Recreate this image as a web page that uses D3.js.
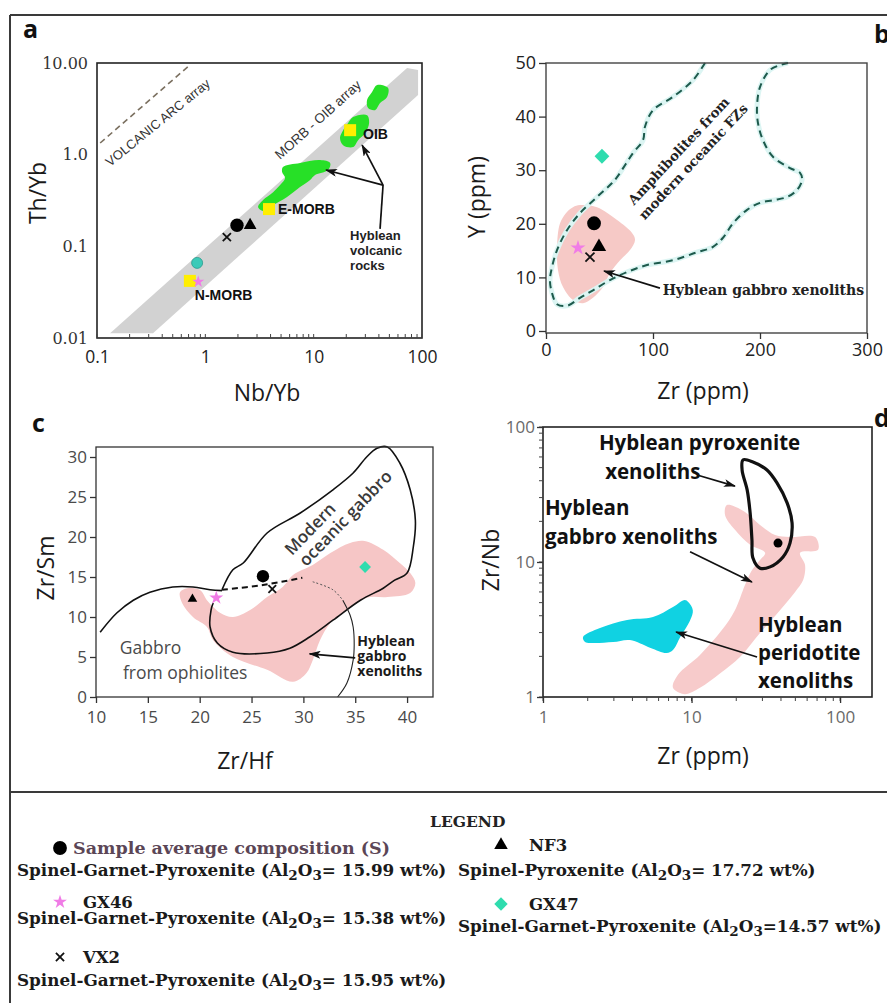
<!DOCTYPE html>
<html>
<head>
<meta charset="utf-8">
<title>Pyroxenite discrimination diagrams</title>
<script src="https://cdn.jsdelivr.net/npm/d3@7"></script>
<style>
  body { margin: 0; background: #fff; }
  svg { display: block; }
</style>
</head>
<body>
<svg id="chart" width="887" height="1003"></svg>
<script>
// sample order used in every panel
const samples = ["S", "NF3", "GX46", "GX47", "VX2"]

// (a) Th/Yb vs Nb/Yb
const aNbYb = [1.96, 2.59, 0.86, 0.84, 1.58]
const aThYb = [0.17, 0.17, 0.041, 0.066, 0.126]
const refNames = ["N-MORB", "E-MORB", "OIB"]
const refNbYb = [0.72, 3.87, 21.7]
const refThYb = [0.042, 0.255, 1.85]
const morbOibArray = [[0.132, 0.0113], [0.329, 0.0113], [92, 4.47], [92, 8.38], [72.8, 8.8]]
const volcanicArc = [[0.107, 1.34], [0.72, 9.5]]
const hybleanVolcanics = [
    [[38.5, 5.74], [48.6, 5.33], [47.6, 4.25], [41.0, 3.65], [36.9, 3.06], [31.8, 3.22], [31.1, 3.94], [34.6, 4.82]],
    [[23.1, 2.57], [31.1, 2.70], [32.5, 2.21], [29.9, 1.72], [25.7, 1.44], [23.1, 1.21], [18.7, 1.27], [17.5, 1.52], [18.7, 1.85], [20.8, 2.21]],
    [[5.21, 0.733], [7.48, 0.81], [11.5, 0.873], [14.2, 0.81], [13.6, 0.68], [10.3, 0.60], [9.27, 0.53], [7.48, 0.443], [5.68, 0.345],
     [4.22, 0.282], [3.41, 0.243], [3.07, 0.268], [3.41, 0.32], [4.22, 0.39], [4.9, 0.466], [5.45, 0.556], [5.11, 0.646]]
]
const aTicksX = [0.1, 1, 10, 100]
const aTicksY = [0.01, 0.1, 1, 10]
const aLabelsY = ["0.01", "0.1", "1.0", "10.00"]

// (b) Y vs Zr
const bZr = [44.9, 49.5, 29.9, 52.3, 41.1]
const bY = [20.1, 15.7, 15.5, 32.6, 13.8]
const bGabbro = [[31.8, 23.5], [47.7, 23.1], [66.4, 20.7], [80.4, 18.3], [83.2, 17.0], [78.5, 15.1], [69.2, 13.2], [59.8, 10.8],
    [53.3, 8.2], [43.9, 6.2], [34.6, 5.2], [25.2, 5.8], [15.9, 8.2], [11.2, 11.4], [10.3, 15.7], [13.1, 20.1], [19.6, 22.2], [25.2, 23.1]]
const bAmphibolites = [[148.6, 50], [137.4, 46.8], [118.7, 43.7], [100, 41.2], [92.5, 38.1], [90.7, 35.6], [81.3, 33.2], [66.4, 28.7],
    [61.7, 27.6], [47.7, 25.0], [31.8, 22.0], [19.6, 18.8], [10.3, 15.1], [5.6, 11.9], [3.7, 9.5], [5.6, 7.1], [10.3, 5.0], [19.6, 4.7],
    [31.8, 6.2], [43.9, 7.6], [59.8, 9.5], [75.7, 11.0], [94.4, 12.3], [118.7, 13.2], [141.1, 14.7], [156.1, 15.7], [165.4, 17.4],
    [174.8, 20.1], [187.9, 22.6], [200, 23.9], [212.1, 24.4], [225.2, 25.0], [234.6, 26.3], [239.3, 28.2], [237.4, 29.5], [228, 30.4],
    [212.1, 32.5], [202.8, 35.6], [198.1, 38.8], [197.2, 41.8], [200, 45.5], [209.3, 48.7], [218.7, 49.6], [226.2, 50]]
const bTicksX = [0, 100, 200, 300]
const bTicksY = [0, 10, 20, 30, 40, 50]

// (c) Zr/Sm vs Zr/Hf
const cZrHf = [26.1, 19.3, 21.6, 35.95, 27.0]
const cZrSm = [15.1, 12.25, 12.4, 16.25, 13.5]
const cGabbro = [[18.1, 13.1], [18.8, 13.6], [20.0, 13.4], [20.7, 12.1], [21.3, 11.25], [22.0, 10.5], [23.2, 10.0], [24.9, 10.9],
    [26.5, 12.5], [28.0, 13.75], [29.0, 15.25], [30.9, 16.5], [32.6, 18.0], [34.5, 19.25], [35.9, 19.5], [37.7, 18.4], [39.3, 16.75],
    [40.3, 15.5], [40.8, 14.25], [40.3, 13.0], [38.1, 12.5], [36.1, 12.4], [34.2, 10.9], [32.6, 9.25], [31.6, 7.1], [30.9, 4.6],
    [30.3, 3.0], [29.0, 1.9], [26.5, 3.4], [23.2, 5.0], [21.3, 7.1], [20.7, 8.75], [19.35, 10.0], [18.3, 11.75]]
const cModernGabbro = [[22.15, 13.4], [23.2, 15.9], [24.2, 16.75], [26.5, 20.5], [29.7, 23.0], [32.85, 25.9], [34.8, 28.0], [36.1, 30.0],
    [37.1, 31.1], [38.1, 31.25], [39.3, 29.25], [40.3, 25.9], [40.8, 22.1], [40.6, 18.75], [40.0, 15.5], [38.8, 14.6], [37.7, 13.6],
    [35.5, 12.1], [32.85, 9.6], [30.6, 7.5], [28.7, 6.1], [26.5, 5.5], [23.2, 5.6], [21.7, 6.75], [21.0, 8.75], [21.1, 10.9], [21.3, 11.75]]
const cOphiolites = [[10.4, 8.1], [12.0, 10.5], [13.6, 12.1], [15.2, 13.1], [17.4, 13.75], [19.35, 13.75], [21.0, 13.4], [22.15, 13.3]]
const cOphiolitesDashed = [[22.15, 13.4], [26.1, 14.0], [29.9, 14.9]]
const cOphiolitesDotted = [[30.9, 14.4], [32.85, 13.4], [33.8, 12.1]]
const cOphiolitesRight = [[33.8, 12.1], [34.5, 10.25], [34.8, 8.75], [34.9, 6.5], [34.8, 4.6], [34.2, 1.75], [33.3, 0]]
const cTicksX = [10, 15, 20, 25, 30, 35, 40]
const cTicksY = [0, 5, 10, 15, 20, 25, 30]

// (d) Zr/Nb vs Zr
const dZr = [38.2]
const dZrNb = [13.8]
const dGabbro = [[17.3, 26.4], [22.9, 23.5], [28.9, 18.8], [36.5, 15.85], [46.0, 15.3], [67.9, 15.3], [71.1, 12.3], [53.8, 11.7],
    [58.1, 9.5], [56.4, 7.35], [49.8, 6.0], [39.4, 4.4], [28.9, 2.98], [21.2, 1.98], [15.6, 1.5], [11.4, 1.17], [9.0, 1.05], [7.5, 1.17],
    [8.1, 1.46], [11.4, 2.05], [16.0, 3.13], [19.6, 4.4], [22.9, 6.76], [25.5, 8.7], [28.9, 10.35], [31.3, 11.7], [24.8, 13.4],
    [19.6, 17.3], [16.8, 22.3]]
const dPeridotite = [[1.86, 2.78], [2.42, 3.24], [3.68, 3.72], [5.5, 3.91], [7.5, 4.64], [9.0, 5.23], [9.5, 5.05], [10.2, 4.4],
    [9.8, 3.72], [8.4, 2.78], [7.5, 2.23], [6.8, 2.12], [5.3, 2.31], [3.85, 2.64], [2.96, 2.55], [2.17, 2.51], [1.92, 2.55]]
const dPyroxenite = [[22.2, 57], [25.9, 55], [32.2, 48], [37.6, 38.5], [44.0, 27.4], [47.5, 19.5], [46.0, 13.8], [41.3, 10.9],
    [33.8, 9.2], [28.9, 9.0], [25.9, 10.7], [25.5, 14.6], [24.8, 23.1], [23.7, 34.1], [21.9, 48]]
const dTicks = [1, 10, 100]

// legend
const legendIds = ["S", "GX46", "VX2", "NF3", "GX47"]
const legendNames = ["Sample average composition (S)", "GX46", "VX2", "NF3", "GX47"]
const legendRocks = ["Spinel-Garnet-Pyroxenite", "Spinel-Garnet-Pyroxenite", "Spinel-Garnet-Pyroxenite",
    "Spinel-Pyroxenite", "Spinel-Garnet-Pyroxenite"]
const legendAl2O3 = ["= 15.99", "= 15.38", "= 15.95", "= 17.72", "=14.57"]

const sampleStyle = {
    S: {type: d3.symbolCircle, fill: "#000"},
    NF3: {type: d3.symbolTriangle, fill: "#000"},
    GX46: {type: d3.symbolStar, fill: "#f07ce6"},
    GX47: {type: d3.symbolSquare, fill: "#2fdcae", rotate: 45},
    VX2: {type: d3.symbolX, stroke: "#111"}
}

const svg = d3.select("#chart")
const sans = "'Open Sans', 'Noto Sans', sans-serif"
const serif = "'DejaVu Serif', serif"
const arial = "'Liberation Sans', Arial, sans-serif"

svg.append("defs").append("marker")
    .attr("id", "arrow")
    .attr("viewBox", "0 0 12 8")
    .attr("refX", 11).attr("refY", 4)
    .attr("markerWidth", 12).attr("markerHeight", 8)
    .attr("markerUnits", "userSpaceOnUse")
    .attr("orient", "auto")
    .append("path").attr("d", "M0,0 L12,4 L0,8 L3,4 z").attr("fill", "#111")

// outer frame and legend separator
const frame = svg.append("g").attr("stroke", "#3a3a3a").attr("stroke-width", 2)
frame.append("line").attr("x1", 10).attr("y1", 15).attr("x2", 887).attr("y2", 15)
frame.append("line").attr("x1", 10).attr("y1", 15).attr("x2", 10).attr("y2", 1003)
frame.append("line").attr("x1", 10).attr("y1", 792).attr("x2", 887).attr("y2", 792)

function mark(g, id, px, py, size) {
    const s = sampleStyle[id]
    const p = g.append("path")
        .attr("d", d3.symbol(s.type, size)())
        .attr("transform", `translate(${px},${py})` + (s.rotate ? ` rotate(${s.rotate})` : ""))
    if (s.stroke) p.attr("fill", "none").attr("stroke", s.stroke).attr("stroke-width", 1.8)
    else p.attr("fill", s.fill)
    return p
}

function arrow(g, sx, sy, from, to) {
    g.append("line")
        .attr("x1", sx(from[0])).attr("y1", sy(from[1]))
        .attr("x2", sx(to[0])).attr("y2", sy(to[1]))
        .attr("stroke", "#111").attr("stroke-width", 1.7)
        .attr("marker-end", "url(#arrow)")
}

function textLines(g, x, y, lines, step, opts) {
    const t = g.append("text").attr("x", x).attr("y", y)
        .attr("font-family", opts.family).attr("font-size", opts.size)
        .attr("font-weight", opts.weight || "normal").attr("fill", opts.fill || "#111")
    lines.forEach((l, i) => t.append("tspan").attr("x", x).attr("dy", i ? step : 0).text(l))
    return t
}

function panelLetter(x, y, s) {
    svg.append("text").attr("x", x).attr("y", y).text(s)
        .attr("font-family", sans).attr("font-weight", "bold").attr("font-size", 25).attr("fill", "#111")
}

function axisTitle(x, y, s, rotate) {
    svg.append("text").text(s)
        .attr("transform", `translate(${x},${y})` + (rotate ? " rotate(-90)" : ""))
        .attr("text-anchor", "middle").attr("dominant-baseline", "central")
        .attr("font-family", sans).attr("font-size", 23).attr("fill", "#1a1a1a")
}

function styleAxis(g, family, size, color) {
    g.select(".domain").remove()
    g.selectAll(".tick text").attr("font-family", family).attr("font-size", size).attr("fill", color)
    g.selectAll(".tick line").attr("stroke", "#333").attr("stroke-width", 1.3)
}

/* ---------------- panel a ---------------- */
const ax = d3.scaleLog().domain([0.1, 100]).range([97, 422])
const ay = d3.scaleLog().domain([0.01, 10]).range([338, 63])
const gA = svg.append("g")
const lineA = d3.line().x(d => ax(d[0])).y(d => ay(d[1]))
const blobA = d3.line().x(d => ax(d[0])).y(d => ay(d[1])).curve(d3.curveCatmullRomClosed.alpha(0.5))

gA.append("path").attr("d", lineA(morbOibArray) + "Z").attr("fill", "#d2d2d2")
gA.append("path").attr("d", lineA(volcanicArc))
    .attr("stroke", "#7b7060").attr("stroke-width", 1.6).attr("stroke-dasharray", "6,4").attr("fill", "none")
gA.selectAll(".volc").data(hybleanVolcanics).join("path")
    .attr("d", blobA).attr("fill", "#27e027")
gA.selectAll(".ref").data(refNames).join("rect")
    .attr("x", (d, i) => ax(refNbYb[i]) - 6).attr("y", (d, i) => ay(refThYb[i]) - 6)
    .attr("width", 12).attr("height", 12).attr("fill", "#ffee00")

const refLabelPos = [[0.80, 0.026], [4.69, 0.225], [28.6, 1.48]]
refNames.forEach((n, i) => {
    gA.append("text").attr("x", ax(refLabelPos[i][0])).attr("y", ay(refLabelPos[i][1])).text(n)
        .attr("font-family", arial).attr("font-weight", "bold")
        .attr("font-size", 14).attr("fill", "#111")
})

samples.forEach((id, i) => {
    const px = ax(aNbYb[i]), py = ay(aThYb[i])
    if (id === "GX47") {
        gA.append("circle").attr("cx", px).attr("cy", py).attr("r", 5.5)
            .attr("fill", "#3ccab8").attr("stroke", "#2a9c8e").attr("stroke-width", 0.8)
    } else {
        mark(gA, id, px, py, {S: 140, NF3: 70, GX46: 45, VX2: 45}[id])
    }
})

// rotated array labels
const volcLab = [0.132, 0.733], morbLab = [4.9, 0.873]
gA.append("text").text("VOLCANIC ARC array")
    .attr("transform", `translate(${ax(volcLab[0])},${ay(volcLab[1])}) rotate(-39)`)
    .attr("font-family", arial).attr("font-size", 13).attr("fill", "#333")
gA.append("text").text("MORB - OIB array")
    .attr("transform", `translate(${ax(morbLab[0])},${ay(morbLab[1])}) rotate(-42)`)
    .attr("font-family", arial).attr("font-size", 13.5).attr("fill", "#333")

textLines(gA, ax(21.7), ay(0.117), ["Hyblean", "volcanic", "rocks"], 15,
    {family: arial, size: 13, weight: "bold", fill: "#222"})
const hubA = [43.7, 0.466]
gA.append("line").attr("x1", ax(hubA[0])).attr("y1", ay(hubA[1])).attr("x2", ax(41.0)).attr("y2", ay(0.155))
    .attr("stroke", "#111").attr("stroke-width", 1.7)
arrow(gA, ax, ay, hubA, [13.0, 0.68])
arrow(gA, ax, ay, hubA, [28.0, 1.27])

gA.append("rect").attr("x", 97).attr("y", 63).attr("width", 325).attr("height", 275)
    .attr("fill", "none").attr("stroke", "#222").attr("stroke-width", 1.6)
// minor log ticks on the bottom axis
gA.selectAll(".minor").data(ax.ticks()).join("line")
    .attr("x1", d => ax(d)).attr("x2", d => ax(d)).attr("y1", 338).attr("y2", 334)
    .attr("stroke", "#444").attr("stroke-width", 1)
const axA = gA.append("g").attr("transform", "translate(0,338)")
    .call(d3.axisBottom(ax).tickValues(aTicksX).tickFormat(d3.format("~g")).tickSize(0).tickPadding(13))
styleAxis(axA, sans, 17.5, "#222")
const ayA = gA.append("g").attr("transform", "translate(97,0)")
    .call(d3.axisLeft(ay).tickValues(aTicksY).tickFormat((d, i) => aLabelsY[i]).tickSize(0).tickPadding(9))
styleAxis(ayA, serif, 16, "#333")
panelLetter(23, 38, "a")
axisTitle(37, 193, "Th/Yb", true)
axisTitle(267, 392, "Nb/Yb")

/* ---------------- panel b ---------------- */
const bx = d3.scaleLinear().domain([0, 300]).range([546, 867])
const by = d3.scaleLinear().domain([0, 50]).range([331, 63])
const gB = svg.append("g")
const blobB = d3.line().x(d => bx(d[0])).y(d => by(d[1])).curve(d3.curveCatmullRomClosed.alpha(0.5))
const curveB = d3.line().x(d => bx(d[0])).y(d => by(d[1])).curve(d3.curveCatmullRom.alpha(0.5))

gB.append("path").attr("d", blobB(bGabbro)).attr("fill", "#f6c9c6")
gB.append("path").attr("d", curveB(bAmphibolites))
    .attr("fill", "none").attr("stroke", "#dcf5f3").attr("stroke-width", 5)
gB.append("path").attr("d", curveB(bAmphibolites))
    .attr("fill", "none").attr("stroke", "#1d5a4c").attr("stroke-width", 2).attr("stroke-dasharray", "7,5")

const bSizes = {S: 150, NF3: 90, GX46: 70, GX47: 110, VX2: 55}
samples.forEach((id, i) => mark(gB, id, bx(bZr[i]), by(bY[i]), bSizes[id]))

const amphLab = [130, 32.5]
const amph = gB.append("g")
    .attr("transform", `translate(${bx(amphLab[0])},${by(amphLab[1])}) rotate(-47)`)
    .attr("font-family", serif).attr("font-weight", "bold").attr("font-size", 13.5).attr("fill", "#222")
    .attr("text-anchor", "middle")
amph.append("text").attr("x", 0).attr("y", -4).text("Amphibolites from")
amph.append("text").attr("x", 2).attr("y", 14).text("modern oceanic FZs")

textLines(gB, bx(109), by(6.7), ["Hyblean gabbro xenoliths"], 0,
    {family: serif, size: 14, weight: "bold", fill: "#222"})
arrow(gB, bx, by, [106.5, 8.0], [54.2, 11.2])

gB.append("rect").attr("x", 546).attr("y", 63).attr("width", 321).attr("height", 270)
    .attr("fill", "none").attr("stroke", "#444").attr("stroke-width", 1.4)
const axB = gB.append("g").attr("transform", "translate(0,333)")
    .call(d3.axisBottom(bx).tickValues(bTicksX).tickSize(6).tickPadding(4))
styleAxis(axB, sans, 18, "#222")
const ayB = gB.append("g").attr("transform", "translate(546,0)")
    .call(d3.axisLeft(by).tickValues(bTicksY).tickSize(7).tickPadding(3))
styleAxis(ayB, sans, 18, "#222")
panelLetter(874, 43, "b")
axisTitle(476, 197, "Y (ppm)", true)
axisTitle(703, 390, "Zr (ppm)")

/* ---------------- panel c ---------------- */
const cx = d3.scaleLinear().domain([10, 42.5]).range([96, 433])
const cy = d3.scaleLinear().domain([0, 31.25]).range([697, 447])
const gC = svg.append("g")
const blobC = d3.line().x(d => cx(d[0])).y(d => cy(d[1])).curve(d3.curveCatmullRomClosed.alpha(0.5))
const curveC = d3.line().x(d => cx(d[0])).y(d => cy(d[1])).curve(d3.curveCatmullRom.alpha(0.5))

gC.append("path").attr("d", blobC(cGabbro)).attr("fill", "#f6c6c6")
gC.append("path").attr("d", curveC(cModernGabbro)).attr("fill", "none").attr("stroke", "#111").attr("stroke-width", 1.6)
gC.append("path").attr("d", curveC(cOphiolites)).attr("fill", "none").attr("stroke", "#111").attr("stroke-width", 1.6)
gC.append("path").attr("d", curveC(cOphiolitesDashed)).attr("fill", "none").attr("stroke", "#111")
    .attr("stroke-width", 2).attr("stroke-dasharray", "6,4")
gC.append("path").attr("d", curveC(cOphiolitesDotted)).attr("fill", "none").attr("stroke", "#555")
    .attr("stroke-width", 1).attr("stroke-dasharray", "2,2")
gC.append("path").attr("d", curveC(cOphiolitesRight)).attr("fill", "none").attr("stroke", "#222").attr("stroke-width", 1.1)

const cSizes = {S: 120, NF3: 40, GX46: 60, GX47: 70, VX2: 40}
samples.forEach((id, i) => mark(gC, id, cx(cZrHf[i]), cy(cZrSm[i]), cSizes[id]))

const modLab = [28.9, 17.6]
const mod = gC.append("g")
    .attr("transform", `translate(${cx(modLab[0])},${cy(modLab[1])}) rotate(-46)`)
    .attr("font-family", sans).attr("font-weight", 600).attr("font-size", 17).attr("fill", "#3a3a3a")
mod.append("text").attr("x", 0).attr("y", 0).text("Modern")
mod.append("text").attr("x", 2).attr("y", 18).text("oceanic gabbro")

textLines(gC, cx(12.3), cy(5.4), ["Gabbro"], 0, {family: sans, size: 17.5, fill: "#4a4a4a"})
textLines(gC, cx(12.6), cy(2.25), ["from ophiolites"], 0, {family: sans, size: 17.5, fill: "#4a4a4a"})
textLines(gC, cx(35.2), cy(6.4), ["Hyblean", "gabbro", "xenoliths"], 15,
    {family: sans, size: 14, weight: "bold", fill: "#1a1a1a"})
arrow(gC, cx, cy, [35.0, 4.9], [30.6, 5.4])

gC.append("rect").attr("x", 96).attr("y", 447).attr("width", 337).attr("height", 250)
    .attr("fill", "none").attr("stroke", "#333").attr("stroke-width", 1.3)
const axC = gC.append("g").attr("transform", "translate(0,697)")
    .call(d3.axisBottom(cx).tickValues(cTicksX).tickSize(6).tickPadding(8))
styleAxis(axC, sans, 17, "#4a4a4a")
const ayC = gC.append("g").attr("transform", "translate(96,0)")
    .call(d3.axisLeft(cy).tickValues(cTicksY).tickSize(6).tickPadding(3))
styleAxis(ayC, sans, 17, "#4a4a4a")
panelLetter(32, 432, "c")
axisTitle(45, 568, "Zr/Sm", true)
axisTitle(245, 760, "Zr/Hf")

/* ---------------- panel d ---------------- */
const dx = d3.scaleLog().domain([1, 164]).range([543, 872])
const dy = d3.scaleLog().domain([1, 100]).range([697, 427])
const gD = svg.append("g")
const blobD = d3.line().x(d => dx(d[0])).y(d => dy(d[1])).curve(d3.curveCatmullRomClosed.alpha(0.5))

gD.append("path").attr("d", blobD(dGabbro)).attr("fill", "#f7cbcb")
gD.append("path").attr("d", blobD(dPeridotite)).attr("fill", "#10d2e2")
gD.append("path").attr("d", blobD(dPyroxenite)).attr("fill", "none").attr("stroke", "#111").attr("stroke-width", 3.2)
dZr.forEach((z, i) => gD.append("circle").attr("cx", dx(z)).attr("cy", dy(dZrNb[i])).attr("r", 4.5).attr("fill", "#000"))

const dText = {family: sans, size: 20.5, weight: "bold", fill: "#111"}
textLines(gD, dx(2.38), dy(67.6), ["Hyblean pyroxenite"], 0, dText)
textLines(gD, dx(2.62), dy(41.2), ["xenoliths"], 0, dText)
arrow(gD, dx, dy, [10.9, 44.1], [19.6, 36.5])
textLines(gD, dx(1.03), dy(22.3), ["Hyblean", "gabbro xenoliths"], 29, dText)
arrow(gD, dx, dy, [9.77, 11.9], [25.5, 7.1])
textLines(gD, dx(28.0), dy(3.03), ["Hyblean", "peridotite", "xenoliths"], 28, dText)
arrow(gD, dx, dy, [27.6, 1.98], [7.87, 3.03])

gD.append("rect").attr("x", 543).attr("y", 427).attr("width", 329).attr("height", 270)
    .attr("fill", "none").attr("stroke", "#222").attr("stroke-width", 1.6)
gD.selectAll(".mx").data(dx.ticks()).join("line")
    .attr("x1", d => dx(d)).attr("x2", d => dx(d)).attr("y1", 697).attr("y2", 701)
    .attr("stroke", "#444").attr("stroke-width", 1)
gD.selectAll(".my").data(dy.ticks()).join("line")
    .attr("y1", d => dy(d)).attr("y2", d => dy(d)).attr("x1", 543).attr("x2", 539)
    .attr("stroke", "#444").attr("stroke-width", 1)
const axD = gD.append("g").attr("transform", "translate(0,697)")
    .call(d3.axisBottom(dx).tickValues(dTicks).tickFormat(d3.format("~g")).tickSize(6).tickPadding(8))
styleAxis(axD, sans, 17, "#6a6a6a")
const ayD = gD.append("g").attr("transform", "translate(543,0)")
    .call(d3.axisLeft(dy).tickValues(dTicks).tickFormat(d3.format("~g")).tickSize(6).tickPadding(2))
styleAxis(ayD, sans, 17, "#6a6a6a")
panelLetter(874, 427, "d")
axisTitle(490, 560, "Zr/Nb", true)
axisTitle(703, 755, "Zr (ppm)")

/* ---------------- legend ---------------- */
const gL = svg.append("g").attr("font-family", serif).attr("font-weight", "bold")
gL.append("text").attr("x", 430).attr("y", 827).text("LEGEND").attr("font-size", 15.5).attr("fill", "#222")

// left column: S, GX46, VX2; right column: NF3, GX47
const legendCol = [0, 0, 0, 1, 1]
const legendRow = [0, 1, 2, 0, 1]
const colMark = [60, 501], colName = [75, 521], colRock = [17, 458]
const rowMarkY = [[848, 902, 957], [845, 904]]
const rowRockY = [[876, 924, 986], [876, 932]]
const legendSizes = {S: 150, GX46: 60, VX2: 45, NF3: 80, GX47: 90}

legendIds.forEach((id, i) => {
    const c = legendCol[i], r = legendRow[i]
    const my = rowMarkY[c][r]
    mark(gL, id, colMark[c], my, legendSizes[id])
    gL.append("text").attr("x", colName[c] + (id === "S" ? -2 : 8)).attr("y", my + 6)
        .attr("font-size", id === "S" ? 17.5 : 16.5).attr("fill", id === "S" ? "#5b4656" : "#1a1a1a")
        .text(legendNames[i])
    const t = gL.append("text").attr("x", colRock[c]).attr("y", rowRockY[c][r])
        .attr("font-size", 16.8).attr("fill", "#1a1a1a")
    t.append("tspan").text(legendRocks[i] + " (Al")
    t.append("tspan").attr("dy", 4).attr("font-size", 13.5).text("2")
    t.append("tspan").attr("dy", -4).text("O")
    t.append("tspan").attr("dy", 4).attr("font-size", 13.5).text("3")
    t.append("tspan").attr("dy", -4).text(legendAl2O3[i] + " wt%)")
})
</script>
</body>
</html>
